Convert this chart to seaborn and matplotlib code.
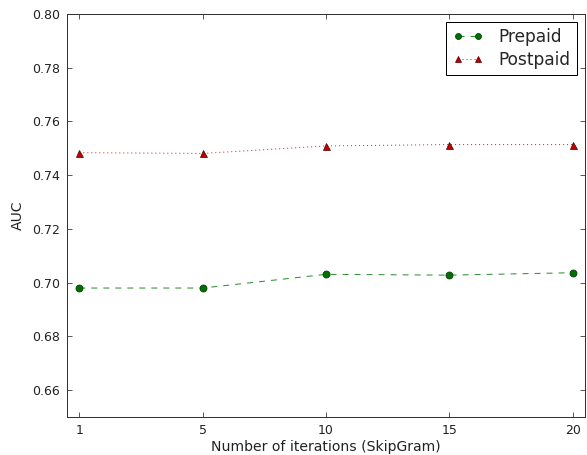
import matplotlib
matplotlib.use("Agg")
import matplotlib.pyplot as plt
import seaborn as sns
import numpy as np

iterations = ["1", "5", "10", "15", "20"]
prepaid = [0.698, 0.698, 0.7031, 0.7028, 0.7037]
postpaid = [0.7484, 0.7481, 0.7509, 0.7514, 0.7514]

sns.set_style("ticks")
plt.rcParams['font.family'] = ['DejaVu Sans']

dpi = 72
fig = plt.figure(figsize=(587 / dpi, 455 / dpi), dpi=dpi)
ax = fig.add_axes([67 / 587, 1 - 417 / 455, (585 - 67) / 587, (417 - 14) / 455])

xpos = np.arange(len(iterations))
sns.lineplot(x=xpos, y=prepaid, ax=ax, color="#2e8b2e", linestyle=(0, (6, 6)), linewidth=1,
             marker="o", markersize=7, markerfacecolor="#007000", markeredgecolor="#003a00",
             label="Prepaid")
sns.lineplot(x=xpos, y=postpaid, ax=ax, color="#d62020", linestyle=(0, (1, 3)), linewidth=1,
             marker="^", markersize=7, markerfacecolor="#c00000", markeredgecolor="#600000",
             label="Postpaid")

ax.set_xlim(-0.1, 4.1)
ax.set_ylim(0.65, 0.80)
ax.set_xticks(xpos)
ax.set_xticklabels(iterations)
ax.set_yticks(np.arange(0.66, 0.801, 0.02))
ax.yaxis.set_major_formatter(matplotlib.ticker.FormatStrFormatter('%.2f'))
ax.tick_params(direction="in", top=True, right=True, labelsize=12.5, length=5, width=0.8,
               colors="#333333", labelcolor="#222222", pad=7)
for s in ax.spines.values():
    s.set_color("#333333")
    s.set_linewidth(1)
ax.set_xlabel("Number of iterations (SkipGram)", fontsize=14, labelpad=3, color="#222222")
ax.set_ylabel("AUC", fontsize=14, labelpad=7, color="#222222")

leg = ax.legend(loc="upper right", fontsize=17, fancybox=False, frameon=True, numpoints=2,
                edgecolor="black", framealpha=1, handlelength=1.8, borderaxespad=0.45,
                borderpad=0.4, handletextpad=0.9, labelspacing=0.25)
for h in leg.legend_handles:
    h.set_markersize(6)
leg.get_frame().set_linewidth(1)

fig.savefig("out.png", dpi=dpi)
